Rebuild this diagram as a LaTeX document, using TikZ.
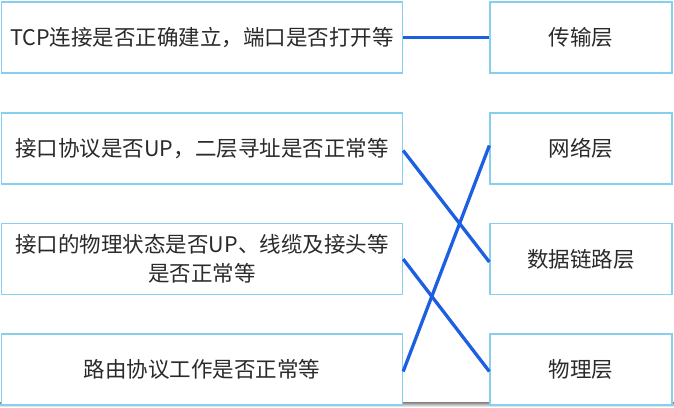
\documentclass[tikz,border=0pt]{standalone}
\usepackage{fontspec}
\setmainfont{Noto Sans CJK SC}
\usetikzlibrary{calc}
\definecolor{boxline}{HTML}{86CFEE}
\definecolor{link}{HTML}{1C5FE0}
\definecolor{txt}{HTML}{2A2A2A}
\definecolor{shade}{HTML}{EEF5FB}
\begin{document}
\begin{tikzpicture}[x=1pt,y=-1pt,
  boxL/.style={draw=boxline,line width=1.3pt,fill=white,minimum width=401pt,minimum height=71pt,inner sep=0pt,
    font=\fontsize{21.5}{29}\selectfont,text=txt,align=center},
  boxR/.style={boxL,minimum width=182pt},
  linkline/.style={draw=link,line width=3.3pt}]
\useasboundingbox (0,0) rectangle (674,407);
\fill[shade] (0,402) rectangle (674,407);
\node[boxL] (l1) at (202,37.5) {TCP连接是否正确建立，端口是否打开等};
\node[boxL] (l2) at (202,148.5) {接口协议是否UP，二层寻址是否正常等};
\node[boxL] (l3) at (202,259) {接口的物理状态是否UP、线缆及接头等\\是否正常等};
\node[boxL] (l4) at (202,369.5) {路由协议工作是否正常等};
\node[boxR] (r1) at (581,37.5) {传输层};
\node[boxR] (r2) at (581,148.5) {网络层};
\node[boxR] (r3) at (581,259) {数据链路层};
\node[boxR] (r4) at (581,369.5) {物理层};
\draw[linkline] (l1.east) -- (r1.west);
\draw[linkline] ($(l2.east)+(0,2)$) -- ($(r3.west)+(0,3)$);
\draw[linkline] (l3.east) -- ($(r4.west)+(0,2)$);
\draw[linkline] ($(l4.east)+(0,2)$) -- ($(r2.west)+(0,-3)$);
\end{tikzpicture}
\end{document}
